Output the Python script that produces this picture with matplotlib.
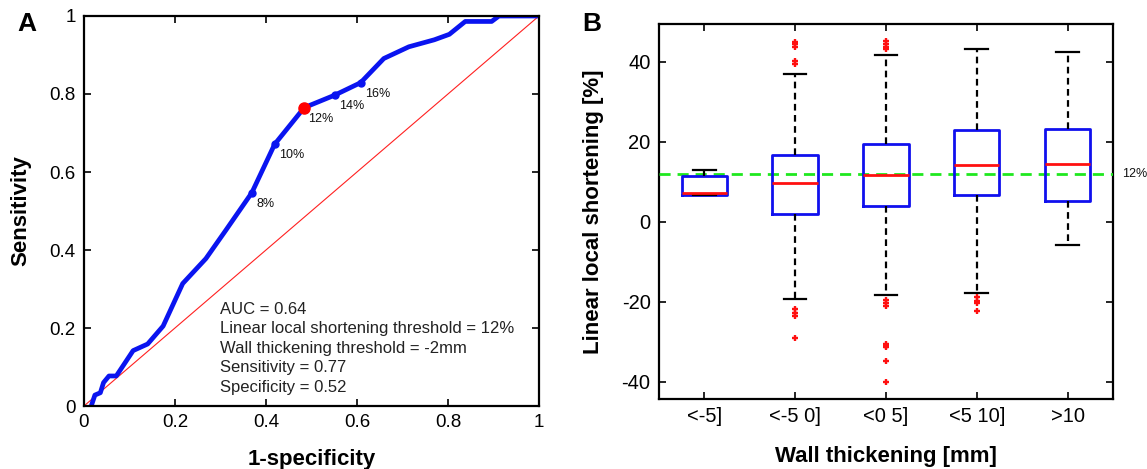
import matplotlib
matplotlib.use("Agg")
import matplotlib.pyplot as plt

plt.rcParams['font.family'] = ['Liberation Sans', 'DejaVu Sans']

# ---- Panel A data: ROC curve ----
roc_fpr = [0.016, 0.024, 0.036, 0.043, 0.055, 0.071, 0.087, 0.108, 0.140, 0.174,
           0.217, 0.268, 0.312, 0.369, 0.419, 0.484, 0.551, 0.608, 0.659, 0.714,
           0.770, 0.803, 0.838, 0.896, 0.912, 1.000]
roc_tpr = [0.000, 0.028, 0.034, 0.060, 0.077, 0.077, 0.105, 0.142, 0.159, 0.205,
           0.314, 0.378, 0.451, 0.547, 0.671, 0.765, 0.797, 0.829, 0.891, 0.921,
           0.939, 0.953, 0.986, 0.986, 1.000, 1.000]
thr_labels = ["8%", "10%", "12%", "14%", "16%"]
thr_fpr = [0.369, 0.419, 0.484, 0.551, 0.608]
thr_tpr = [0.547, 0.671, 0.765, 0.797, 0.829]
optimal_label = "12%"
info_lines = ["AUC = 0.64",
              "Linear local shortening threshold = 12%",
              "Wall thickening threshold = -2mm",
              "Sensitivity = 0.77",
              "Specificity = 0.52"]
a_ticks = [0, 0.2, 0.4, 0.6, 0.8, 1]
a_ticklabels = ["0", "0.2", "0.4", "0.6", "0.8", "1"]

# ---- Panel B data: boxplots ----
categories = ["<-5]", "<-5 0]", "<0 5]", "<5 10]", ">10"]
whislo = [6.6, -19.3, -18.3, -17.8, -5.9]
q1 = [6.6, 2.0, 3.9, 6.6, 5.1]
med = [7.2, 9.8, 11.8, 14.1, 14.4]
q3 = [11.4, 16.8, 19.4, 23.0, 23.2]
whishi = [13.0, 37.0, 41.8, 43.2, 42.4]
outliers = [
    [],
    [45.0, 44.6, 43.8, 40.2, 39.6, -21.8, -22.7, -23.5, -29.0],
    [45.2, 44.6, 43.7, 43.2, -19.6, -20.4, -21.0, -30.5, -31.0, -31.4, -34.9, -40.1],
    [-18.9, -19.8, -20.3, -22.2],
    [],
]
threshold = 12
threshold_label = "12%"
b_yticks = [-40, -20, 0, 20, 40]

fig = plt.figure(figsize=(11.47, 4.69), dpi=100)

# ---------------- Panel A ----------------
axA = fig.add_axes([0.0732, 0.1343, 0.3967, 0.8316])
axA.plot([0, 1], [0, 1], color='#ff2020', lw=0.8)
axA.plot(roc_fpr, roc_tpr, color='#0a14f0', lw=3.4, solid_joinstyle='round')
for lab, fx, ty in zip(thr_labels, thr_fpr, thr_tpr):
    if lab == optimal_label:
        axA.plot(fx, ty, 'o', color='#ff0000', ms=8, zorder=5)
    else:
        axA.plot(fx, ty, 'o', color='#0a14f0', ms=5, zorder=5)
    axA.annotate(lab, (fx, ty), xytext=(3, -8), textcoords='offset points',
                 ha='left', va='center', fontsize=9, color='#111111')
for k, line in enumerate(info_lines):
    axA.text(0.30, 0.248 - 0.05 * k, line, ha='left', va='center',
             fontsize=12, color='#222222')
axA.set_xlim(0, 1)
axA.set_ylim(0, 1)
axA.set_xticks(a_ticks)
axA.set_xticklabels(a_ticklabels)
axA.set_yticks(a_ticks)
axA.set_yticklabels(a_ticklabels)
axA.tick_params(direction='in', top=True, right=True, length=5, width=1.2,
                labelsize=13.5, pad=6)
for s in axA.spines.values():
    s.set_linewidth(1.6)
axA.set_xlabel("1-specificity", fontsize=16, fontweight='bold', labelpad=13)
axA.set_ylabel("Sensitivity", fontsize=16, fontweight='bold', labelpad=13)
fig.text(0.0148, 0.949, "A", fontsize=19, fontweight='bold', va='center')

# ---------------- Panel B ----------------
axB = fig.add_axes([0.5745, 0.1493, 0.3958, 0.7996])
stats = []
for i in range(len(categories)):
    stats.append(dict(whislo=whislo[i], q1=q1[i], med=med[i], q3=q3[i],
                      whishi=whishi[i], fliers=outliers[i], label=categories[i]))
positions = list(range(1, len(categories) + 1))
axB.axhline(threshold, color='#1fe81f', lw=2, ls=(0, (4, 2.5)), zorder=3)
axB.bxp(stats, positions=positions, widths=0.5, showfliers=True,
        boxprops=dict(color='#1010ee', lw=2),
        medianprops=dict(color='#ff1010', lw=2),
        whiskerprops=dict(color='black', lw=1.6, ls=(0, (3, 2))),
        capprops=dict(color='black', lw=1.6),
        capwidths=0.25,
        flierprops=dict(marker='+', markeredgecolor='#ff1010', markersize=5,
                        markeredgewidth=1.7, linestyle='none'),
        zorder=4)
axB.set_xlim(0.5, 5.5)
axB.set_ylim(-44.3, 49.5)
axB.set_yticks(b_yticks)
axB.set_yticklabels([str(v) for v in b_yticks])
axB.set_xticks(positions)
axB.set_xticklabels(categories)
axB.tick_params(direction='in', top=True, right=True, length=5, width=1.2,
                labelsize=14.5, pad=6)
for s in axB.spines.values():
    s.set_linewidth(1.6)
axB.text(1.02, threshold, threshold_label, transform=axB.get_yaxis_transform(),
         ha='left', va='center', fontsize=9, color='#111111')
axB.set_xlabel("Wall thickening [mm]", fontsize=16, fontweight='bold', labelpad=14)
axB.set_ylabel("Linear local shortening [%]", fontsize=16, fontweight='bold', labelpad=13)
fig.text(0.508, 0.949, "B", fontsize=19, fontweight='bold', va='center')

fig.savefig("out.png", dpi=100)
